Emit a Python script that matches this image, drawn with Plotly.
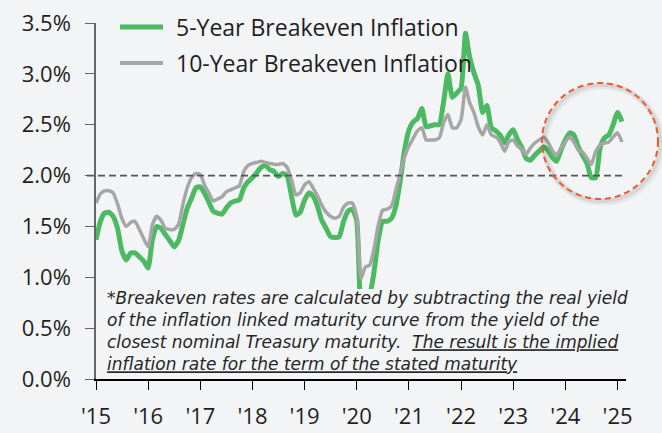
import pandas as pd
import plotly.graph_objects as go

# Monthly breakeven inflation rates (%), Jan 2015 - Feb 2025
months = pd.date_range("2015-01-01", periods=122, freq="MS")

be_5y = [
    1.37, 1.55, 1.63, 1.64, 1.60, 1.48, 1.26, 1.17, 1.24, 1.24, 1.20, 1.16,   # 2015
    1.09, 1.38, 1.50, 1.48, 1.42, 1.36, 1.30, 1.36, 1.52, 1.68, 1.78, 1.88,   # 2016
    1.89, 1.82, 1.74, 1.65, 1.63, 1.62, 1.68, 1.73, 1.75, 1.76, 1.88, 1.94,   # 2017
    1.98, 2.03, 2.08, 2.10, 2.06, 2.04, 1.99, 2.02, 2.00, 1.80, 1.61, 1.64,   # 2018
    1.76, 1.83, 1.80, 1.70, 1.56, 1.48, 1.40, 1.39, 1.40, 1.55, 1.65, 1.67,   # 2019
    1.56, 0.65, 0.55, 0.80, 1.05, 1.38, 1.55, 1.55, 1.58, 1.70, 1.95, 2.25,   # 2020
    2.45, 2.53, 2.56, 2.66, 2.48, 2.49, 2.50, 2.50, 2.73, 3.00, 2.77, 2.81,   # 2021
    2.86, 3.40, 3.17, 3.01, 2.89, 2.62, 2.69, 2.47, 2.44, 2.40, 2.32, 2.40,   # 2022
    2.45, 2.35, 2.28, 2.17, 2.15, 2.20, 2.24, 2.28, 2.25, 2.18, 2.14, 2.25,   # 2023
    2.35, 2.42, 2.40, 2.28, 2.20, 2.12, 1.98, 1.98, 2.28, 2.37, 2.40, 2.50,   # 2024
    2.62, 2.53,                                                               # 2025
]

be_10y = [
    1.73, 1.82, 1.85, 1.85, 1.83, 1.72, 1.58, 1.50, 1.54, 1.55, 1.47, 1.38,   # 2015
    1.30, 1.52, 1.60, 1.56, 1.48, 1.47, 1.47, 1.52, 1.72, 1.88, 1.98, 2.02,   # 2016
    2.01, 1.90, 1.83, 1.75, 1.77, 1.79, 1.84, 1.86, 1.88, 1.90, 2.04, 2.10,   # 2017
    2.12, 2.13, 2.14, 2.13, 2.12, 2.11, 2.11, 2.12, 2.08, 1.96, 1.81, 1.83,   # 2018
    1.91, 1.94, 1.88, 1.80, 1.71, 1.64, 1.60, 1.58, 1.60, 1.69, 1.73, 1.73,   # 2019
    1.60, 0.99, 1.10, 1.12, 1.28, 1.52, 1.66, 1.67, 1.70, 1.86, 2.02, 2.18,   # 2020
    2.29, 2.37, 2.44, 2.47, 2.35, 2.35, 2.35, 2.37, 2.52, 2.60, 2.47, 2.47,   # 2021
    2.55, 2.87, 2.72, 2.62, 2.48, 2.40, 2.50, 2.40, 2.38, 2.33, 2.24, 2.33,   # 2022
    2.35, 2.29, 2.26, 2.21, 2.27, 2.32, 2.35, 2.38, 2.33, 2.25, 2.20, 2.27,   # 2023
    2.33, 2.38, 2.33, 2.25, 2.23, 2.17, 2.11, 2.24, 2.30, 2.32, 2.33, 2.38,   # 2024
    2.42, 2.33,                                                               # 2025
]

series_names = ["5-Year Breakeven Inflation", "10-Year Breakeven Inflation"]
y_ticks = [0.0, 0.5, 1.0, 1.5, 2.0, 2.5, 3.0, 3.5]
y_tick_labels = ["0.0%", "0.5%", "1.0%", "1.5%", "2.0%", "2.5%", "3.0%", "3.5%"]
target_rate = 2.0

footnote_lines = [
    "*Breakeven rates are calculated by subtracting the real yield",
    "of the inflation linked maturity curve from the yield of the",
    "closest nominal Treasury maturity.&nbsp; <u>The result is the implied</u>",
    "<u>inflation rate for the term of the stated maturity</u>",
]

GREEN = "#4CB963"
GREY = "#A6A6A6"
BG = "#F3F4F6"
FONT = "Open Sans"

W, H = 662, 433
L, R, T, B = 96, 36, 23, 54
PW, PH = W - L - R, H - T - B


def px_x(x):
    return (x - L) / PW


def px_y(y):
    return (H - B - y) / PH


fig = go.Figure()
fig.add_trace(go.Scatter(
    x=months, y=be_5y, mode="lines", name=series_names[0],
    line=dict(color=GREEN, width=5, shape="spline", smoothing=0.5),
    showlegend=False,
))
fig.add_trace(go.Scatter(
    x=months, y=be_10y, mode="lines", name=series_names[1],
    line=dict(color=GREY, width=3.5, shape="spline", smoothing=0.5),
    showlegend=False,
))

shapes = []
# 2% reference line
shapes.append(dict(
    type="line", xref="paper", yref="y", x0=px_x(87), x1=1, y0=target_rate, y1=target_rate,
    line=dict(color="#555555", width=1.8, dash="7px,4px"), layer="above",
))
# panel behind the footnote
shapes.append(dict(
    type="rect", xref="paper", yref="paper",
    x0=px_x(102), x1=px_x(648), y0=px_y(372), y1=px_y(289),
    fillcolor=BG, line=dict(width=0), layer="above",
))
# highlight circle with soft shadow
cx0, cx1, cy0, cy1 = 542, 658, 83, 199
for off, w, a in [(3, 7, 0.05), (2, 4, 0.07)]:
    shapes.append(dict(
        type="circle", xref="paper", yref="paper",
        x0=px_x(cx0 + off), x1=px_x(cx1 + off), y0=px_y(cy1 + off), y1=px_y(cy0 + off),
        line=dict(color=f"rgba(0,0,0,{a})", width=w), layer="above",
    ))
shapes.append(dict(
    type="circle", xref="paper", yref="paper",
    x0=px_x(cx0), x1=px_x(cx1), y0=px_y(cy1), y1=px_y(cy0),
    line=dict(color="#F05A2A", width=2, dash="6px,4px"), layer="above",
))
# legend swatches
for yy, col, w in [(27, GREEN, 5), (63, GREY, 4)]:
    shapes.append(dict(
        type="line", xref="paper", yref="paper",
        x0=px_x(120), x1=px_x(163), y0=px_y(yy), y1=px_y(yy),
        line=dict(color=col, width=w), layer="above",
    ))

annotations = []
for yy, name in zip([27, 63], series_names):
    annotations.append(dict(
        xref="paper", yref="paper", x=px_x(174), y=px_y(yy),
        xanchor="left", yanchor="middle", showarrow=False, text=name,
        font=dict(family=FONT, size=23, color="#1f1f1f"),
    ))
# footnote as one multi-line block
annotations.append(dict(
    xref="paper", yref="paper", x=px_x(106), y=px_y(287),
    xanchor="left", yanchor="top", align="left", showarrow=False,
    text="<i>" + "<br>".join(footnote_lines) + "</i>", borderpad=0,
    font=dict(family="DejaVu Sans", size=17, color="#262626"),
))

fig.update_layout(
    width=W, height=H,
    margin=dict(l=L, r=R, t=T, b=B, pad=0, autoexpand=False),
    paper_bgcolor=BG, plot_bgcolor=BG,
    font=dict(family=FONT, color="#1f1f1f"),
    shapes=shapes, annotations=annotations,
    xaxis=dict(
        range=["2015-01-01", "2025-03-01"], automargin=False,
        tickmode="linear", tick0="2015-01-01", dtick="M12", tickformat="'%y",
        ticks="outside", ticklen=9, tickwidth=1.2, tickcolor="#000000",
        ticklabelstandoff=8,
        showline=True, linecolor="#000000", linewidth=1.5,
        showgrid=False, zeroline=False,
        tickfont=dict(family=FONT, size=22, color="#1f1f1f"),
    ),
    yaxis=dict(
        range=[0, 3.5], automargin=False,
        tickmode="array", tickvals=y_ticks, ticktext=y_tick_labels,
        ticks="outside", ticklen=9, tickwidth=1.2, tickcolor="#666666",
        ticklabelstandoff=10,
        showline=True, linecolor="#666666", linewidth=1.5,
        showgrid=False, zeroline=False,
        tickfont=dict(family=FONT, size=22, color="#1f1f1f"),
    ),
)

fig.write_html("out.html")
